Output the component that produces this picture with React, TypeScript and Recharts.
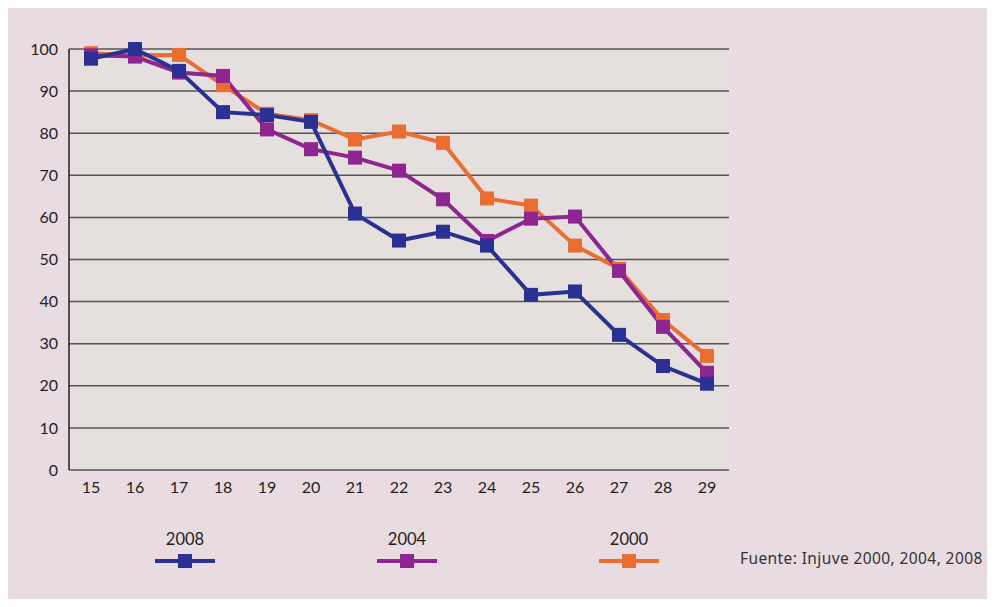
import { LineChart, Line, XAxis, YAxis, CartesianGrid, Legend } from 'recharts';

const ages = [15, 16, 17, 18, 19, 20, 21, 22, 23, 24, 25, 26, 27, 28, 29];
const serie2008 = [97.7, 100, 94.8, 85, 84.3, 82.7, 60.9, 54.5, 56.6, 53.3, 41.6, 42.4, 32.1, 24.7, 20.5];
const serie2004 = [98.5, 98.2, 94.4, 93.6, 80.9, 76.2, 74.2, 71.1, 64.3, 54.4, 59.7, 60.2, 47.3, 34.0, 23.1];
const serie2000 = [99.0, 98.5, 98.6, 91.4, 84.6, 83.1, 78.5, 80.4, 77.7, 64.5, 62.8, 53.3, 47.8, 35.6, 27.1];
const yTicks = [0, 10, 20, 30, 40, 50, 60, 70, 80, 90, 100];
const boundaryTicks = [15.5, 16.5, 17.5, 18.5, 19.5, 20.5, 21.5, 22.5, 23.5, 24.5, 25.5, 26.5, 27.5, 28.5, 29.5];
const legendOrder = ['2008', '2004', '2000'];
const source = 'Fuente: Injuve 2000, 2004, 2008';

const colors: { [k: string]: string } = {
  '2008': '#2B3192',
  '2004': '#8E2590',
  '2000': '#EA6E32',
};

const data = ages.map((age, i) => ({
  age,
  y2008: serie2008[i],
  y2004: serie2004[i],
  y2000: serie2000[i],
}));

const textColor = '#231F20';
const font = 'Lato, "Noto Sans", sans-serif';

function squareDot(color: string) {
  return (props: any) => {
    const { cx, cy, index } = props;
    if (cx == null || cy == null) return <g key={index} />;
    return <rect key={index} x={cx - 7} y={cy - 7} width={14} height={14} fill={color} />;
  };
}

function LegendContent(props: any) {
  const items = (props.payload || []).slice().sort(
    (a: any, b: any) => legendOrder.indexOf(a.value) - legendOrder.indexOf(b.value)
  );
  return (
    <div style={{ display: 'flex', paddingLeft: 74 }}>
      {items.map((it: any) => (
        <div key={it.value} style={{ width: 222, textAlign: 'center', fontFamily: font, color: textColor }}>
          <div style={{ fontSize: 16.5, lineHeight: '20px' }}>{it.value}</div>
          <svg width={60} height={16} style={{ display: 'block', margin: '4px auto 0' }}>
            <line x1={0} y1={8} x2={60} y2={8} stroke={it.color} strokeWidth={4} />
            <rect x={23} y={1} width={14} height={14} fill={it.color} />
          </svg>
        </div>
      ))}
    </div>
  );
}

export default function App() {
  return (
    <div style={{ position: 'relative', width: 995, height: 607, margin: -8, background: '#fff', overflow: 'hidden' }}>
      <div
        style={{
          position: 'absolute',
          left: 8,
          top: 6,
          width: 987,
          height: 599,
          background: '#E8DCE2',
          boxShadow: '-4px 0 4px #777',
          borderBottom: '2px solid #6b6b6b',
        }}
      />
      <div style={{ position: 'absolute', left: 0, top: 0 }}>
        <LineChart width={995} height={607} data={data} margin={{ top: 49, right: 266, left: 9, bottom: 107 }}>
          <CartesianGrid vertical={false} horizontal fill="#E5E0DE" stroke="#555" strokeWidth={1.5} />
          <XAxis
            xAxisId="marks"
            type="number"
            dataKey="age"
            domain={[14.5, 29.5]}
            ticks={boundaryTicks}
            tick={false}
            mirror
            tickSize={10}
            height={0}
            axisLine={{ stroke: textColor, strokeWidth: 2 }}
            tickLine={{ stroke: textColor, strokeWidth: 1.5 }}
          />
          <XAxis
            xAxisId="labels"
            type="number"
            dataKey="age"
            domain={[14.5, 29.5]}
            ticks={ages}
            interval={0}
            height={30}
            axisLine={false}
            tickLine={false}
            tickSize={0}
            tickMargin={12}
            tick={{ fill: textColor, fontSize: 16, fontFamily: font }}
          />
          <YAxis
            domain={[0, 100]}
            ticks={yTicks}
            interval={0}
            width={60}
            tickLine={false}
            tickSize={0}
            tickMargin={11}
            axisLine={{ stroke: textColor, strokeWidth: 1.5 }}
            tick={{ fill: textColor, fontSize: 16, fontFamily: font }}
          />
          <Legend
            layout="horizontal"
            verticalAlign="middle"
            align="center"
            wrapperStyle={{ top: 529, left: 0, width: 995 }}
            content={<LegendContent />}
          />
          <Line
            xAxisId="labels"
            dataKey="y2000"
            name="2000"
            stroke={colors['2000']}
            strokeWidth={4}
            dot={squareDot(colors['2000'])}
            activeDot={false}
            isAnimationActive={false}
          />
          <Line
            xAxisId="labels"
            dataKey="y2004"
            name="2004"
            stroke={colors['2004']}
            strokeWidth={4}
            dot={squareDot(colors['2004'])}
            activeDot={false}
            isAnimationActive={false}
          />
          <Line
            xAxisId="labels"
            dataKey="y2008"
            name="2008"
            stroke={colors['2008']}
            strokeWidth={4}
            dot={squareDot(colors['2008'])}
            activeDot={false}
            isAnimationActive={false}
          />
        </LineChart>
      </div>
      <div
        style={{
          position: 'absolute',
          left: 740,
          top: 547,
          fontFamily: '"Noto Sans", sans-serif',
          fontSize: 15.5,
          letterSpacing: 0.4,
          color: '#333',
          whiteSpace: 'nowrap',
        }}
      >
        {source}
      </div>
    </div>
  );
}
